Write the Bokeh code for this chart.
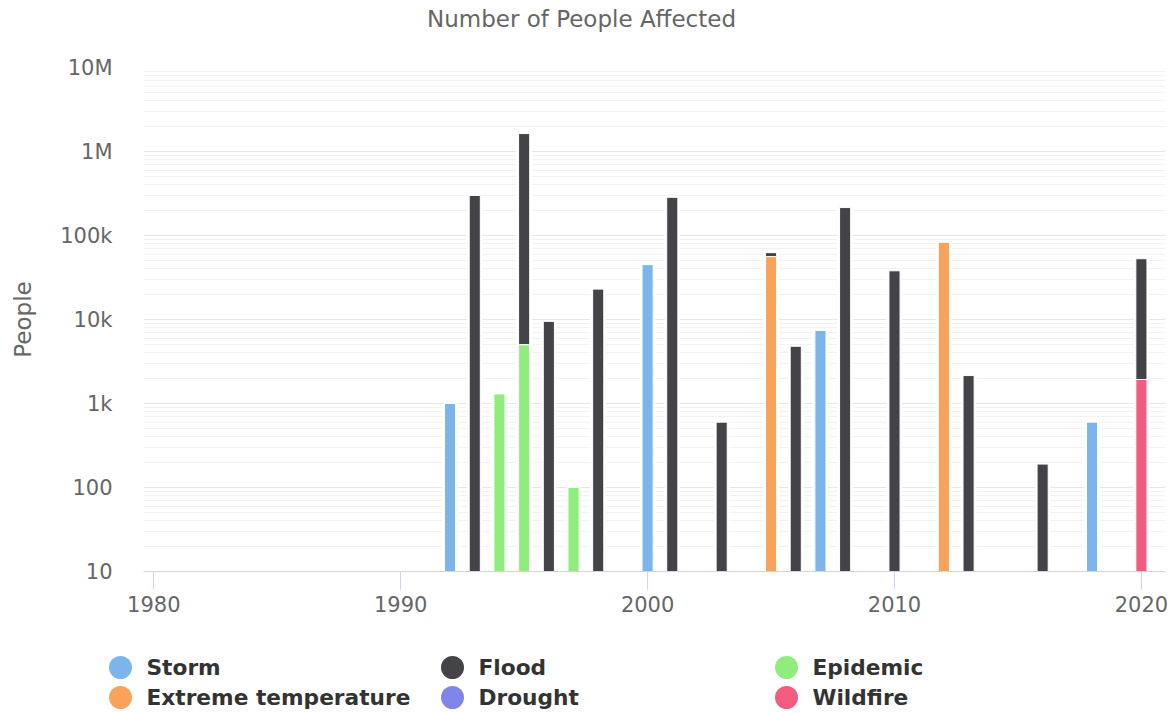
from bokeh.plotting import figure
from bokeh.models import Range1d, FixedTicker, ColumnDataSource
from bokeh.core.properties import value
from bokeh.embed import file_html
from bokeh.resources import INLINE

# ---------------- data ----------------
title_text = "Number of People Affected"
series_names = ["Storm", "Flood", "Epidemic", "Extreme temperature", "Drought", "Wildfire"]
series_colors = ["#7cb5ec", "#434348", "#90ed7d", "#f7a35c", "#8085e9", "#f15c80"]

storm_years = [1992, 2000, 2007, 2018]
storm_values = [1000, 45000, 7400, 600]

flood_years = [1993, 1995, 1996, 1998, 2001, 2003, 2005, 2006, 2008, 2010, 2013, 2016, 2020]
flood_values = [300000, 1630000, 9500, 23000, 285000, 600, 6500, 4800, 215000, 38000, 2150, 190, 51000]

epidemic_years = [1994, 1995, 1997]
epidemic_values = [1300, 5000, 100]

extreme_temperature_years = [2005, 2012]
extreme_temperature_values = [56000, 83000]

drought_years = []
drought_values = []

wildfire_years = [2020]
wildfire_values = [1930]

y_tick_values = [10, 100, 1000, 10000, 100000, 1000000, 10000000]
y_tick_labels = ["10", "100", "1k", "10k", "100k", "1M", "10M"]
x_tick_values = [1980, 1990, 2000, 2010, 2020]

series_years = [storm_years, flood_years, epidemic_years,
                extreme_temperature_years, drought_years, wildfire_years]
series_vals = [storm_values, flood_values, epidemic_values,
               extreme_temperature_values, drought_values, wildfire_values]

# ---------------- layout constants ----------------
FONT = "DejaVu Sans"
Y_MIN, Y_MAX = 10, 1e7
W = 1171
TOP_H = 40          # title strip
MAIN_BOTTOM = 635   # page y where the main figure ends
MAIN_H = MAIN_BOTTOM - TOP_H
LH = 713 - MAIN_BOTTOM


def strip(height):
    f = figure(width=W, height=height, x_range=Range1d(0, W), y_range=Range1d(height, 0),
               toolbar_location=None, output_backend="svg",
               x_axis_location=None, y_axis_location=None, min_border=0)
    f.outline_line_color = None
    f.grid.visible = False
    return f


# ---------------- title strip ----------------
top = strip(TOP_H)
top.text(x=[581], y=[18], text=[title_text],
         text_font=value(FONT), text_font_size="23px",
         text_baseline="middle", text_align="center", text_color="#666666")

# ---------------- main chart ----------------
p = figure(width=W, height=MAIN_H,
           x_range=Range1d(1979.583, 2020.976),
           y_range=Range1d(Y_MIN, Y_MAX),
           y_axis_type="log",
           toolbar_location=None, output_backend="svg",
           min_border_left=143, min_border_right=6,
           min_border_top=67 - TOP_H, min_border_bottom=MAIN_BOTTOM - 571)

p.outline_line_color = None
p.background_fill_color = "white"
p.border_fill_color = "white"

# stacking: later series sit below earlier ones (Highcharts normal stacking)
cum = {}
stacked = [None] * len(series_names)
for idx in reversed(range(len(series_names))):
    xs, bottoms, tops = [], [], []
    for yr, v in zip(series_years[idx], series_vals[idx]):
        base = cum.get(yr, 0)
        xs.append(yr)
        bottoms.append(base if base > 0 else Y_MIN)
        tops.append(base + v)
        cum[yr] = base + v
    stacked[idx] = (xs, bottoms, tops)

# white backing to break the grid lines around each column
back_years = sorted(cum.keys())
back_tops = [cum[y] for y in back_years]
p.vbar(x=back_years, top=back_tops, bottom=Y_MIN, width=0.62,
       fill_color="white", line_color=None)

for idx in range(len(series_names)):
    xs, bottoms, tops = stacked[idx]
    src = ColumnDataSource(dict(x=xs, bottom=bottoms, top=tops))
    p.vbar(x="x", top="top", bottom="bottom", width=0.45, source=src,
           fill_color=series_colors[idx], line_color="white", line_width=1)

# axes
xt = FixedTicker(ticks=x_tick_values)
p.xaxis.ticker = xt
p.xgrid.visible = False
p.xaxis.axis_line_color = "#ccd6eb"
p.xaxis.major_tick_line_color = "#ccd6eb"
p.xaxis.major_tick_out = 18
p.xaxis.major_tick_in = 0
p.xaxis.minor_tick_line_color = None
p.xaxis.minor_tick_out = 0
p.xaxis.major_label_standoff = 6
p.xaxis.major_label_text_font = FONT
p.xaxis.major_label_text_font_size = "21px"
p.xaxis.major_label_text_color = "#666666"

minor = []
for t in y_tick_values[:-1]:
    for k in range(2, 10):
        minor.append(t * k)
yt = FixedTicker(ticks=y_tick_values, minor_ticks=minor)
p.yaxis.ticker = yt
p.ygrid.ticker = yt
p.yaxis.major_label_overrides = dict(zip(y_tick_values, y_tick_labels))
p.yaxis.axis_line_color = None
p.yaxis.major_tick_line_color = None
p.yaxis.minor_tick_line_color = None
p.yaxis.major_tick_out = 0
p.yaxis.major_tick_in = 0
p.yaxis.minor_tick_out = 0
p.yaxis.minor_tick_in = 0
p.yaxis.major_label_standoff = 31
p.yaxis.major_label_text_font = FONT
p.yaxis.major_label_text_font_size = "21px"
p.yaxis.major_label_text_color = "#666666"
p.yaxis.axis_label = "People"
p.yaxis.axis_label_text_font = FONT
p.yaxis.axis_label_text_font_size = "23px"
p.yaxis.axis_label_text_font_style = "normal"
p.yaxis.axis_label_text_color = "#666666"
p.yaxis.axis_label_standoff = 21

p.ygrid.grid_line_color = "#e6e6e6"
p.ygrid.grid_line_width = 1
p.ygrid.minor_grid_line_color = "#f2f2f2"
p.ygrid.minor_grid_line_width = 1

# ---------------- legend strip ----------------
leg = strip(LH)
col_x = [120, 452, 786]
row_y = [667 - MAIN_BOTTOM, 697 - MAIN_BOTTOM]
lx = [col_x[i % 3] for i in range(len(series_names))]
ly = [row_y[i // 3] for i in range(len(series_names))]
leg.scatter(x=lx, y=ly, size=23, marker="circle",
            fill_color=series_colors, line_color=None)
leg.text(x=[x + 26 for x in lx], y=ly, text=series_names,
         text_font=value(FONT), text_font_style="bold", text_font_size="21.7px",
         text_baseline="middle", text_align="left", text_color="#333333")

open("out.html", "w").write(file_html([top, p, leg], INLINE))
